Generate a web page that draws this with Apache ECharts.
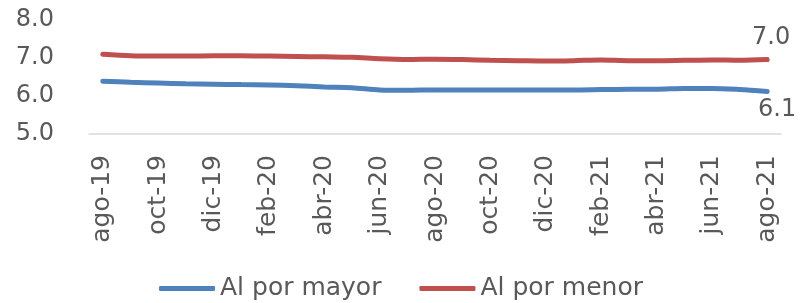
<!DOCTYPE html>
<html>
<head>
<meta charset="utf-8">
<script src="https://cdn.jsdelivr.net/npm/echarts@6/dist/echarts.min.js"></script>
<style>
  html, body { margin: 0; padding: 0; background: #fff; }
  #echart { width: 802px; height: 303px; }
</style>
</head>
<body>
<div id="echart"></div>
<script>
const months = ['ago-19', 'sep-19', 'oct-19', 'nov-19', 'dic-19', 'ene-20', 'feb-20', 'mar-20', 'abr-20',
  'may-20', 'jun-20', 'jul-20', 'ago-20', 'sep-20', 'oct-20', 'nov-20', 'dic-20', 'ene-21', 'feb-21',
  'mar-21', 'abr-21', 'may-21', 'jun-21', 'jul-21', 'ago-21'];
const mayor = [6.39, 6.36, 6.34, 6.32, 6.31, 6.30, 6.29, 6.27, 6.24, 6.22, 6.16, 6.15, 6.16,
  6.16, 6.16, 6.16, 6.16, 6.16, 6.17, 6.18, 6.18, 6.20, 6.20, 6.17, 6.12];
const menor = [7.10, 7.06, 7.05, 7.05, 7.06, 7.06, 7.05, 7.04, 7.03, 7.02, 6.98, 6.96, 6.97,
  6.96, 6.94, 6.93, 6.92, 6.93, 6.95, 6.93, 6.93, 6.94, 6.95, 6.94, 6.96];
const yTicks = [5, 6, 7, 8];

const font = 'DejaVu Sans';
const txt = '#595959';

// only the last point carries a value label
function withEndLabel(arr, label) {
  return arr.map((v, i) => i === arr.length - 1 ? { value: v, label: Object.assign({ show: true }, label) } : v);
}

const chart = echarts.init(document.getElementById('echart'));
chart.setOption({
  animation: false,
  grid: { left: 89, right: 21, top: 20, bottom: 169 },
  legend: {
    bottom: -3, left: 'center', itemWidth: 56, itemHeight: 5, itemGap: 38,
    icon: 'roundRect',
    textStyle: { fontFamily: font, fontSize: 25, color: txt },
    data: ['Al por mayor', 'Al por menor']
  },
  xAxis: {
    type: 'category', data: months, boundaryGap: true,
    axisLine: { lineStyle: { color: '#d9d9d9', width: 1.5 } },
    axisTick: { interval: 1, length: 10, lineStyle: { color: '#d9d9d9', width: 1.5 } },
    axisLabel: { interval: 1, rotate: 90, margin: 21, fontFamily: font, fontSize: 25, color: txt }
  },
  yAxis: {
    type: 'value', min: yTicks[0], max: yTicks[yTicks.length - 1], interval: 1,
    axisLine: { show: false }, axisTick: { show: false }, splitLine: { show: false },
    axisLabel: { margin: 35, fontFamily: font, fontSize: 24, color: txt, formatter: v => v.toFixed(1) }
  },
  series: [
    {
      name: 'Al por mayor', type: 'line', smooth: 0.3, symbol: 'circle', symbolSize: 0.1, showSymbol: true,
      data: withEndLabel(mayor, { position: 'bottom', distance: 6, offset: [10, 0], formatter: p => p.value.toFixed(1) }),
      lineStyle: { color: '#4F81BD', width: 5, cap: 'round' }, itemStyle: { color: '#4F81BD' },
      label: { show: false, fontFamily: font, fontSize: 24, color: txt }
    },
    {
      name: 'Al por menor', type: 'line', smooth: 0.3, symbol: 'circle', symbolSize: 0.1, showSymbol: true,
      data: withEndLabel(menor, { position: 'top', distance: 6, offset: [4, -4], formatter: p => p.value.toFixed(1) }),
      lineStyle: { color: '#C0504D', width: 5, cap: 'round' }, itemStyle: { color: '#C0504D' },
      label: { show: false, fontFamily: font, fontSize: 24, color: txt }
    }
  ]
});
</script>
</body>
</html>
